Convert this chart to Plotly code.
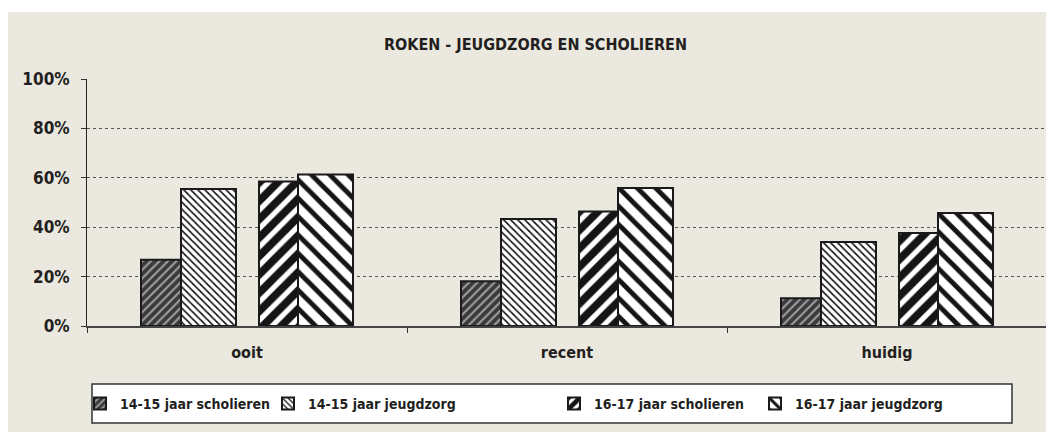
import plotly.graph_objects as go

categories = ["ooit", "recent", "huidig"]
series_names = ["14-15 jaar scholieren", "14-15 jaar jeugdzorg",
                "16-17 jaar scholieren", "16-17 jaar jeugdzorg"]
s1415_scholieren = [0.268, 0.181, 0.112]
s1415_jeugdzorg = [0.555, 0.433, 0.340]
s1617_scholieren = [0.585, 0.464, 0.377]
s1617_jeugdzorg = [0.613, 0.559, 0.457]
values = [s1415_scholieren, s1415_jeugdzorg, s1617_scholieren, s1617_jeugdzorg]
y_ticks = [0, 0.2, 0.4, 0.6, 0.8, 1.0]
title_text = "ROKEN - JEUGDZORG EN SCHOLIEREN"

# page has an 8px body margin; work in screen pixels and convert
OFF = 8
SW, SH = 1054, 432
W, H = SW - OFF, SH - OFF
L, R, T, B = 87, 1047, 79, 326   # plot area in screen pixels
FONT = "DejaVu Sans Condensed, Liberation Sans Narrow, sans-serif"
TXT = "#231f20"

def px_x(x):
    return (x - L) / (R - L)

def px_y(y):
    return (B - y) / (B - T)

CAT_PX = (R - L) / len(categories)
offs = [-106, -66, 12, 51]
wids = [40, 55, 39, 55]
patterns = [
    dict(shape="/", bgcolor="#3a3a3a", fgcolor="#a0a0a0", size=6, solidity=0.35,
         fillmode="replace", fgopacity=1),
    dict(shape="\\", bgcolor="#ffffff", fgcolor="#111111", size=5, solidity=0.32,
         fillmode="replace", fgopacity=1),
    dict(shape="/", bgcolor="#ffffff", fgcolor="#151515", size=13, solidity=0.6,
         fillmode="replace", fgopacity=1),
    dict(shape="\\", bgcolor="#ffffff", fgcolor="#151515", size=13, solidity=0.38,
         fillmode="replace", fgopacity=1),
]
legend_text_x = [120, 308, 594, 795]

fig = go.Figure()
for i, (name, vals) in enumerate(zip(series_names, values)):
    lname = "legend" if i == 0 else f"legend{i+1}"
    fig.add_trace(go.Bar(
        x=categories, y=vals, name=name,
        offset=offs[i] / CAT_PX, width=wids[i] / CAT_PX,
        marker=dict(color=patterns[i]["fgcolor"], pattern=patterns[i],
                    line=dict(color="#1a1a1a", width=2)),
        legend=lname, hoverinfo="y+name",
    ))

legend_common = dict(orientation="h", yanchor="middle", xanchor="left",
                     bgcolor="rgba(0,0,0,0)", borderwidth=0,
                     font=dict(family=FONT, size=14, color=TXT, weight="bold"))
lay_legends = {}
for i in range(4):
    key = "legend" if i == 0 else f"legend{i+1}"
    lay_legends[key] = dict(legend_common, x=px_x(legend_text_x[i] - 40), y=px_y(404))

fig.update_layout(
    width=W, height=H,
    margin=dict(l=L - OFF, r=SW - R, t=T - OFF, b=SH - B, pad=0),
    paper_bgcolor="#ffffff", plot_bgcolor="#ffffff",
    barmode="overlay", showlegend=True,
    font=dict(family=FONT, color=TXT),
    **lay_legends,
    xaxis=dict(type="category", tickson="boundaries", ticks="outside", ticklen=5,
               tickcolor="#333", showgrid=False, showline=True, linecolor="#444",
               linewidth=2, tickfont=dict(family=FONT, size=16, color=TXT, weight="bold"),
               ticklabelstandoff=11, range=[-0.5, 2.5]),
    yaxis=dict(range=[0, 1], tickvals=y_ticks, tickformat=".0%", ticks="outside",
               ticklen=5, tickcolor="#333", showline=True, mirror=True,
               linecolor="#222", linewidth=1, showgrid=True, gridcolor="#555",
               griddash="dot", gridwidth=1, zeroline=False,
               tickfont=dict(family=FONT, size=17, color=TXT, weight="bold"),
               ticklabelstandoff=8),
    shapes=[
        dict(type="rect", xref="paper", yref="paper", layer="below",
             x0=px_x(7), x1=px_x(SW + 5), y0=px_y(SH + 5), y1=px_y(12),
             fillcolor="#ebe8df", line=dict(width=0)),
        dict(type="rect", xref="paper", yref="paper", layer="below",
             x0=px_x(92), x1=px_x(1012), y0=px_y(423), y1=px_y(384),
             fillcolor="#ffffff", line=dict(width=0)),
        dict(type="rect", xref="paper", yref="paper", layer="above",
             x0=px_x(92), x1=px_x(1012), y0=px_y(423), y1=px_y(384),
             fillcolor="rgba(0,0,0,0)", line=dict(color="#333", width=1.5)),
    ],
    annotations=[dict(text=title_text, xref="paper", yref="paper",
                      x=px_x(535), y=px_y(44), xanchor="center", yanchor="middle",
                      showarrow=False,
                      font=dict(family=FONT, size=16, color=TXT, weight="bold"))],
)

fig.write_html("out.html")
